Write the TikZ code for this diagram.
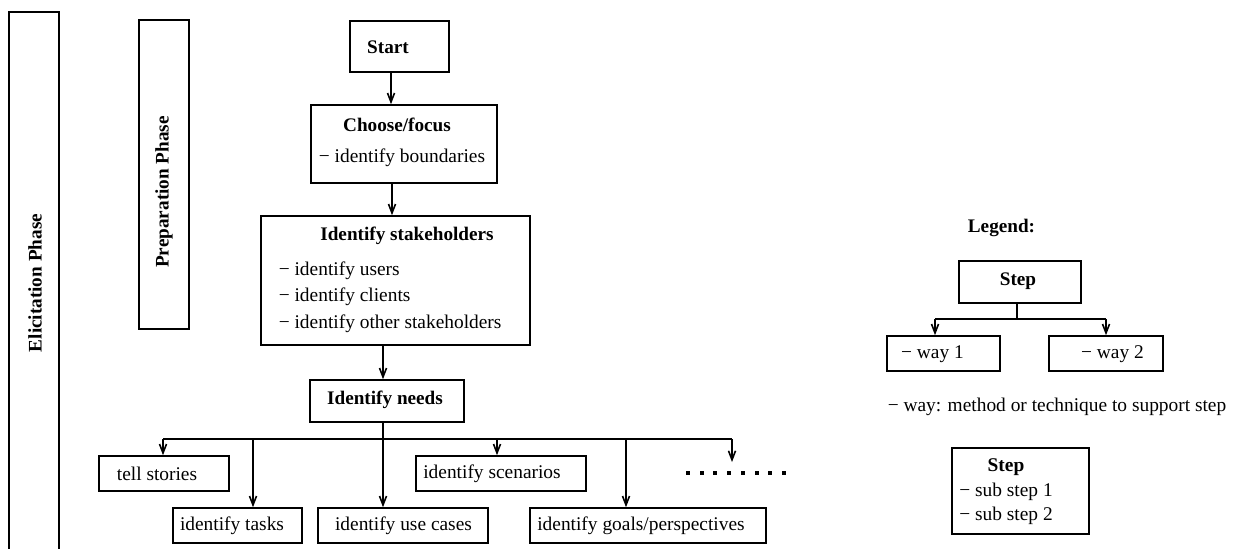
\documentclass[tikz,border=0pt]{standalone}
\usepackage{fontspec}
\setmainfont{LiberationSerif}[Extension=.ttf,UprightFont=*-Regular,BoldFont=*-Bold]
\usetikzlibrary{arrows.meta}
\tikzstyle{stepbox} = [draw, line width=0.8pt, inner sep=0pt]
\tikzstyle{arrow} = [line width=0.8pt,-{Straight Barb[length=4.5pt,width=3.5pt]}]
\tikzstyle{title} = [font=\fontsize{9.6}{12}\selectfont\bfseries, inner sep=0pt]
\tikzstyle{txt} = [inner sep=0pt]

\begin{document}
\begin{tikzpicture}[x=0.5pt,y=-0.5pt,font=\fontsize{9.7}{13}\selectfont,line width=0.8pt]
\useasboundingbox (0,0) rectangle (1234,548);

% phases
\draw (9,560) -- (9,12) -- (59,12) -- (59,560);
\node[title, rotate=90] (elic) at (35,283) {Elicitation Phase};
\node[stepbox, minimum width=25pt, minimum height=154.5pt] (prep) at (164,174.5) {};
\node[title, rotate=90] (prep-t) at (164,192) {Preparation Phase};

% main steps
\node[stepbox, minimum width=49.5pt, minimum height=25.5pt] (start) at (399.5,46.5) {};
\node[title] (start-t) at (388,47) {Start};

\node[stepbox, minimum width=93pt, minimum height=39pt] (choose) at (404,144) {};
\node[title] (choose-t) at (397,125) {Choose/focus};
\node[txt] (choose-s) at (402,158) {− identify boundaries};

\node[stepbox, minimum width=134.5pt, minimum height=64.5pt] (stake) at (395.5,280.5) {};
\node[title] (stake-t) at (407,236) {Identify stakeholders};
\node[txt, anchor=west, align=left, font=\fontsize{9.7}{13.25}\selectfont] (stake-s) at (278,297)
  {− identify users\\− identify clients\\− identify other stakeholders};

\node[stepbox, minimum width=77pt, minimum height=21pt] (needs) at (387,401) {};
\node[title] (needs-t) at (385,400) {Identify needs};

\draw[arrow] ([xshift=-4.25pt]start.south) -- ([xshift=-4.25pt]start.south |- choose.north);
\draw[arrow] ([xshift=-6pt]choose.south) -- ([xshift=-6pt]choose.south |- stake.north);
\draw[arrow] ([xshift=-6.25pt]stake.south) -- ([xshift=-6.25pt]stake.south |- needs.north);

% ways of identify needs
\node[stepbox, minimum width=65pt, minimum height=17.5pt] (stories) at (164,473.5) {};
\node[txt] (stories-t) at (157,474) {tell stories};
\node[stepbox, minimum width=64.5pt, minimum height=17.5pt] (tasks) at (237.5,525.5) {};
\node[txt] (tasks-t) at (232,526) {identify tasks};
\node[stepbox, minimum width=85pt, minimum height=17.5pt] (usecases) at (403,525.5) {};
\node[txt] (usecases-t) at (403.5,526) {identify use cases};
\node[stepbox, minimum width=85pt, minimum height=17.5pt] (scen) at (501,473.5) {};
\node[txt] (scen-t) at (492,474) {identify scenarios};
\node[stepbox, minimum width=118pt, minimum height=17.5pt] (goals) at (648,525.5) {};
\node[txt] (goals-t) at (641,526) {identify goals/perspectives};

\coordinate (bus) at (383,439);
\coordinate (t1) at (163,439);
\coordinate (t2) at (253,439);
\coordinate (t4) at (497,439);
\coordinate (t5) at (626,439);
\coordinate (t6) at (732,439);
\coordinate (more) at (732,462);

\draw ([xshift=-2pt]needs.south) -- (bus);
\draw (t1) -- (t6);
\draw[arrow] (t1) -- (t1 |- stories.north);
\draw[arrow] (t2) -- (t2 |- tasks.north);
\draw[arrow] (bus) -- (bus |- usecases.north);
\draw[arrow] (t4) -- (t4 |- scen.north);
\draw[arrow] (t5) -- (t5 |- goals.north);
\draw[arrow] (t6) -- (more);
\foreach \i in {0,...,7}
  \fill (686+13.7*\i,471) rectangle ++(4,4);

% legend
\node[title] (legend) at (1001.5,228) {Legend:};
\node[stepbox, minimum width=61pt, minimum height=21pt] (step) at (1020,282) {};
\node[title] (step-t) at (1018,281) {Step};
\node[stepbox, minimum width=56.5pt, minimum height=17.5pt] (way1) at (943.5,353.5) {};
\node[txt] (way1-t) at (932.5,354) {− way 1};
\node[stepbox, minimum width=57pt, minimum height=17.5pt] (way2) at (1106,353.5) {};
\node[txt] (way2-t) at (1112.5,354) {− way 2};

\coordinate (lb) at (1017,319);
\coordinate (l1) at (935,319);
\coordinate (l2) at (1106,319);
\draw (step.south -| lb) -- (lb);
\draw (l1) -- (l2);
\draw[arrow] (l1) -- (l1 |- way1.north);
\draw[arrow] (l2) -- (l2 |- way2.north);

\node[txt] (note) at (1057,407) {− way: method or technique to support step};

\node[stepbox, minimum width=68.5pt, minimum height=43pt] (sub) at (1020.5,491) {};
\node[txt, align=center, font=\fontsize{9.7}{12.25}\selectfont] (sub-t) at (1006,492)
  {\textbf{Step}\\− sub step 1\\− sub step 2};

\end{tikzpicture}
\end{document}
